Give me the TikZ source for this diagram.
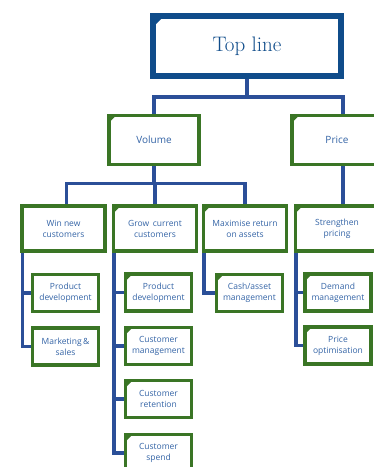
\documentclass[tikz,border=0pt]{standalone}
\usepackage{fontspec}
\setsansfont{Open Sans}
\definecolor{topblue}{HTML}{0F4C8A}
\definecolor{linkblue}{HTML}{2B4F98}
\definecolor{boxgreen}{HTML}{3A7525}
\definecolor{txtblue}{HTML}{3464A6}
\tikzset{
  box/.style={draw=boxgreen, line width=3.5pt, fill=white, align=center, text=txtblue,
    font=\sffamily\fontsize{8.5}{11}\selectfont, inner sep=0pt,
    minimum width=66pt, minimum height=37pt},
  cutbox/.style={box, path picture={\fill[boxgreen] (path picture bounding box.north west)
    -- ++(7pt,0) -- ++(-7pt,-7pt) -- cycle;}},
  midbox/.style={cutbox, minimum width=83pt, minimum height=45pt},
  bigbox/.style={cutbox, minimum width=90pt, minimum height=49pt,
    font=\sffamily\fontsize{10}{12}\selectfont},
  link/.style={draw=linkblue, line width=3.5pt},
}
\begin{document}
\begin{tikzpicture}[x=1pt, y=-1pt]
        \useasboundingbox (0,0) rectangle (374,467);
        \clip (0,0) rectangle (374,467);

        % top
        \node[draw=topblue, line width=6pt, minimum width=188pt, minimum height=60pt,
          text=topblue, font=\fontsize{21}{24}\selectfont,
          path picture={\fill[topblue] (path picture bounding box.north west)
            -- ++(11pt,0) -- ++(-11pt,-11pt) -- cycle;}] (top) at (247,46) {Top line};

        % second row
        \node[bigbox] (volume) at (154,140) {Volume};
        \node[bigbox] (price) at (337,140) {Price};

        % third row
        \node[midbox, path picture={}] (win) at (63.5,228.5) {Win new\\customers};
        \node[midbox] (grow) at (155,228.5) {Grow\, current\\customers};
        \node[midbox] (assets) at (245,228.5) {Maximise return\\on assets};
        \node[midbox] (pricing) at (337,228.5) {Strengthen\\pricing};

        % leaves
        \node[box] (proddevA) at (65.5,293) {Product\\development};
        \node[box] (marketing) at (65.5,346.5) {Marketing\,\&\\sales};
        \node[cutbox] (proddevB) at (158.5,292.5) {Product\\development};
        \node[cutbox] (custman) at (158.5,346) {Customer\\management};
        \node[cutbox] (custret) at (158.5,399) {Customer\\retention};
        \node[cutbox] (custspend) at (158.5,453) {Customer\\spend};
        \node[cutbox] (cash) at (249.5,293) {Cash/asset\\management};
        \node[cutbox] (demand) at (338,292.5) {Demand\\management};
        \node[cutbox] (priceopt) at (338,345.5) {Price\\optimisation};

        % connectors
        \coordinate (topjoin) at ([yshift=-18pt]top.south);
        \draw[link] (top.south) -- (topjoin) -| (volume.north);
        \draw[link] (topjoin) -| ([xshift=6pt]price.north);
        \coordinate (voljoin) at ([yshift=-17pt]volume.south);
        \draw[link] (volume.south) -- (voljoin) -| ([xshift=3pt]win.north);
        \draw[link] (voljoin) -| (grow.north);
        \draw[link] (voljoin) -| (assets.north);
        \draw[link] ([xshift=6pt]price.south) -- ([xshift=6pt]price.south |- pricing.north);

        \draw[link] ([xshift=2pt]win.south west) |- (proddevA.west);
        \draw[link] ([xshift=2pt]win.south west) |- (marketing.west);
        \draw[link] ([xshift=2pt]grow.south west) |- (proddevB.west);
        \draw[link] ([xshift=2pt]grow.south west) |- (custman.west);
        \draw[link] ([xshift=2pt]grow.south west) |- (custret.west);
        \draw[link] ([xshift=2pt]grow.south west) |- (custspend.west);
        \draw[link] ([xshift=2pt]assets.south west) |- (cash.west);
        \draw[link] ([xshift=2pt]pricing.south west) |- (demand.west);
        \draw[link] ([xshift=2pt]pricing.south west) |- (priceopt.west);
    \end{tikzpicture}
\end{document}
